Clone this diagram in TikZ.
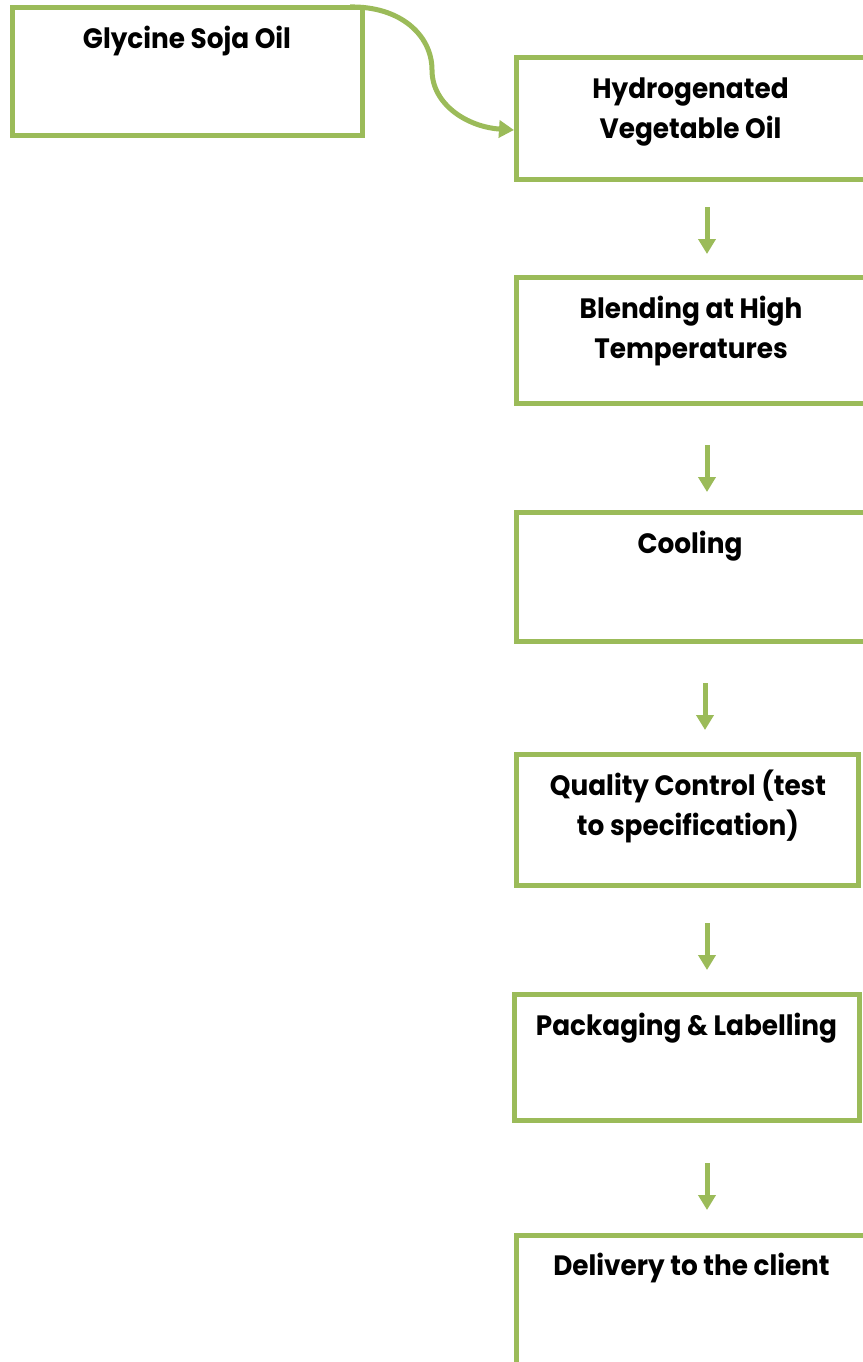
\documentclass[tikz,border=0pt]{standalone}
\usepackage{fontspec}
\setmainfont{Poppins}[FakeStretch=0.94]
\usetikzlibrary{arrows.meta,calc}
\definecolor{olive}{HTML}{9BBB59}
\tikzset{
  box/.style={draw=olive, line width=5pt, rectangle, outer sep=0pt, inner sep=0pt, anchor=north west},
  txt/.style={anchor=base, align=center, font=\fontsize{28}{40}\selectfont\bfseries, inner sep=0pt},
  flow/.style={draw=olive, line width=5pt, -{Triangle[width=17pt,length=15pt]}},
}
\begin{document}
\begin{tikzpicture}[x=1pt,y=-1pt]
\useasboundingbox (0,0) rectangle (862,1362);
\node[box, minimum width=350pt, minimum height=128pt] (b1) at (12,8) {};
\node[box, minimum width=350pt, minimum height=121pt] (b2) at (516,58) {};
\node[box, minimum width=350pt, minimum height=126pt] (b3) at (516,277) {};
\node[box, minimum width=350pt, minimum height=129pt] (b4) at (516,512) {};
\node[box, minimum width=342pt, minimum height=131pt] (b5) at (516,754) {};
\node[box, minimum width=345pt, minimum height=126pt] (b6) at (514,994) {};
\node[box, minimum width=350pt, minimum height=160pt] (b7) at (516,1235) {};

\node[txt] (t1) at ($(b1.north)+(0,41)$) {Glycine Soja Oil};
\node[txt] (t2) at ($(b2.north)+(-0.5,81)$) {Hydrogenated\\Vegetable Oil};
\node[txt] (t3) at ($(b3.north)+(0,81)$) {Blending at High\\Temperatures};
\node[txt] (t4) at ($(b4.north)+(-1,41)$) {Cooling};
\node[txt] (t5) at ($(b5.north)+(1,81)$) {Quality Control (test\\to specification)};
\node[txt] (t6) at ($(b6.north)+(0,41)$) {Packaging \& Labelling};
\node[txt] (t7) at ($(b7.north)+(0.5,40)$) {Delivery to the client};

\draw[flow] ($(b1.north east)+(-12,-1)$) .. controls (400,6) and (432,35) .. (432,70)
  .. controls (432,105) and (468,127) .. ($(b2.west)+(-2,11.5)$);
\draw[flow, shorten <=28pt, shorten >=23pt] ($(b2.south)+(16,0)$) -- ($(b3.north)+(16,0)$);
\draw[flow, shorten <=42pt, shorten >=20pt] ($(b3.south)+(16,0)$) -- ($(b4.north)+(16,0)$);
\draw[flow, shorten <=42pt, shorten >=24pt] ($(b4.south)+(14,0)$) -- ($(b5.north)+(18,0)$);
\draw[flow, shorten <=38pt, shorten >=24pt] ($(b5.south)+(20,0)$) -- ($(b6.north)+(20.5,0)$);
\draw[flow, shorten <=43pt, shorten >=25pt] ($(b6.south)+(20.5,0)$) -- ($(b7.north)+(16,0)$);
\end{tikzpicture}
\end{document}
